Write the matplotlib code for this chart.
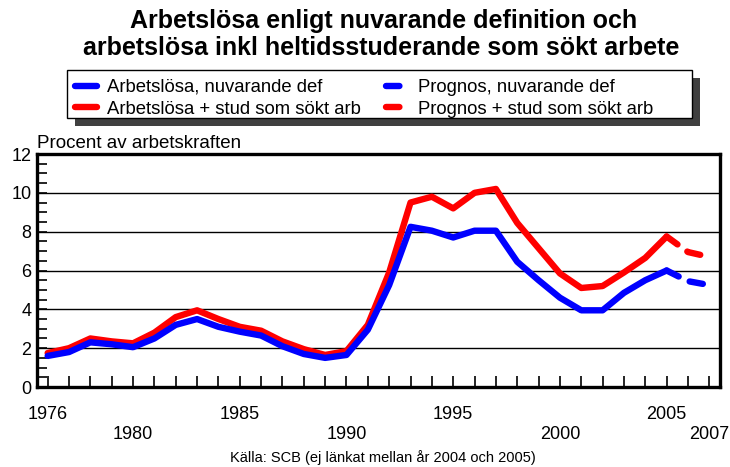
import matplotlib
matplotlib.use("Agg")
import matplotlib.pyplot as plt
from matplotlib.patches import Rectangle
from matplotlib.ticker import MultipleLocator

plt.rcParams["font.family"] = ["Liberation Sans", "DejaVu Sans"]

# Utfall 1976-2005 (procent av arbetskraften)
ar = list(range(1976, 2006))
nuvarande = [1.6, 1.8, 2.3, 2.2, 2.05, 2.5, 3.2, 3.5, 3.1, 2.85,
             2.65, 2.1, 1.7, 1.5, 1.65, 2.95, 5.25, 8.25, 8.05, 7.7,
             8.05, 8.05, 6.45, 5.5, 4.6, 3.95, 3.95, 4.85, 5.5, 6.0]
med_stud = [1.75, 2.0, 2.5, 2.35, 2.25, 2.8, 3.6, 3.95, 3.5, 3.1,
            2.9, 2.35, 1.95, 1.65, 1.85, 3.2, 5.9, 9.5, 9.8, 9.2,
            10.0, 10.2, 8.45, 7.15, 5.85, 5.1, 5.2, 5.9, 6.65, 7.75]

# Prognos 2005-2007
prognos_ar = [2005, 2006, 2007]
prognos_nuvarande = [6.0, 5.45, 5.25]
prognos_med_stud = [7.75, 6.95, 6.7]

etiketter_rad1 = [1976, 1985, 1995, 2005]
etiketter_rad2 = [1980, 1990, 2000, 2007]

BLA = "#0000ff"
ROD = "#ff0000"
LW = 4.6
STRECK = (2.1, 1.9)

fig = plt.figure(figsize=(7.3, 4.67), dpi=100)
ax = fig.add_axes([37 / 730, 1 - 387 / 467, 683 / 730, 233 / 467])

ax.plot(ar, med_stud, color=ROD, lw=LW, solid_capstyle="round",
        solid_joinstyle="round", label="Arbetslösa + stud som sökt arb", zorder=3)
ax.plot(ar, nuvarande, color=BLA, lw=LW, solid_capstyle="round",
        solid_joinstyle="round", label="Arbetslösa, nuvarande def", zorder=4)
ax.plot(prognos_ar, prognos_med_stud, color=ROD, lw=LW, dashes=STRECK,
        dash_capstyle="round", label="Prognos + stud som sökt arb", zorder=3)
ax.plot(prognos_ar, prognos_nuvarande, color=BLA, lw=LW, dashes=STRECK,
        dash_capstyle="round", label="Prognos, nuvarande def", zorder=4)

ax.set_xlim(1975.5, 2007.5)
ax.set_ylim(0, 12)
ax.yaxis.set_major_locator(MultipleLocator(2))
ax.yaxis.set_minor_locator(MultipleLocator(0.5))
ax.grid(axis="y", color="black", lw=1.0)

tick_ar = list(range(1976, 2008))
etiketter = []
for a in tick_ar:
    if a in etiketter_rad1:
        etiketter.append(str(a))
    elif a in etiketter_rad2:
        etiketter.append("\n" + str(a))
    else:
        etiketter.append("")
ax.set_xticks(tick_ar)
ax.set_xticklabels(etiketter, linespacing=1.22)

ax.tick_params(axis="x", direction="in", length=8, width=1.2, pad=14, labelsize=13)
ax.tick_params(axis="y", which="both", direction="in", length=7, width=1.2, pad=4, labelsize=13)
for s in ax.spines.values():
    s.set_linewidth(2.4)

fig.text(384 / 730, 1 - 21 / 467, "Arbetslösa enligt nuvarande definition och",
         ha="center", va="center", fontsize=18, fontweight="bold")
fig.text(381 / 730, 1 - 48 / 467, "arbetslösa inkl heltidsstuderande som sökt arbete",
         ha="center", va="center", fontsize=18, fontweight="bold")
fig.text(37 / 730, 1 - 143 / 467, "Procent av arbetskraften",
         ha="left", va="center", fontsize=13.5)
fig.text(383 / 730, 1 - 458 / 467, "Källa: SCB (ej länkat mellan år 2004 och 2005)",
         ha="center", va="center", fontsize=10.5)

# legendram med skugga
fig.add_artist(Rectangle((75 / 730, 1 - 126 / 467), 625 / 730, 48 / 467,
                         transform=fig.transFigure, facecolor="#404040",
                         edgecolor="none", zorder=1))
fig.add_artist(Rectangle((67 / 730, 1 - 118 / 467), 625 / 730, 48 / 467,
                         transform=fig.transFigure, facecolor="white",
                         edgecolor="black", lw=1.0, zorder=2))

h, l = ax.get_legend_handles_labels()
ordning = [1, 0, 3, 2]
leg = fig.legend([h[i] for i in ordning], [l[i] for i in ordning],
                 ncol=2, loc="upper left", bbox_to_anchor=(75 / 730, 1 - 79 / 467),
                 frameon=False, fontsize=13.3, handlelength=1.2, handletextpad=0.55,
                 columnspacing=1.35, labelspacing=0.25, borderpad=0,
                 borderaxespad=0)
leg.set_zorder(3)

fig.savefig("out.png", dpi=100)
